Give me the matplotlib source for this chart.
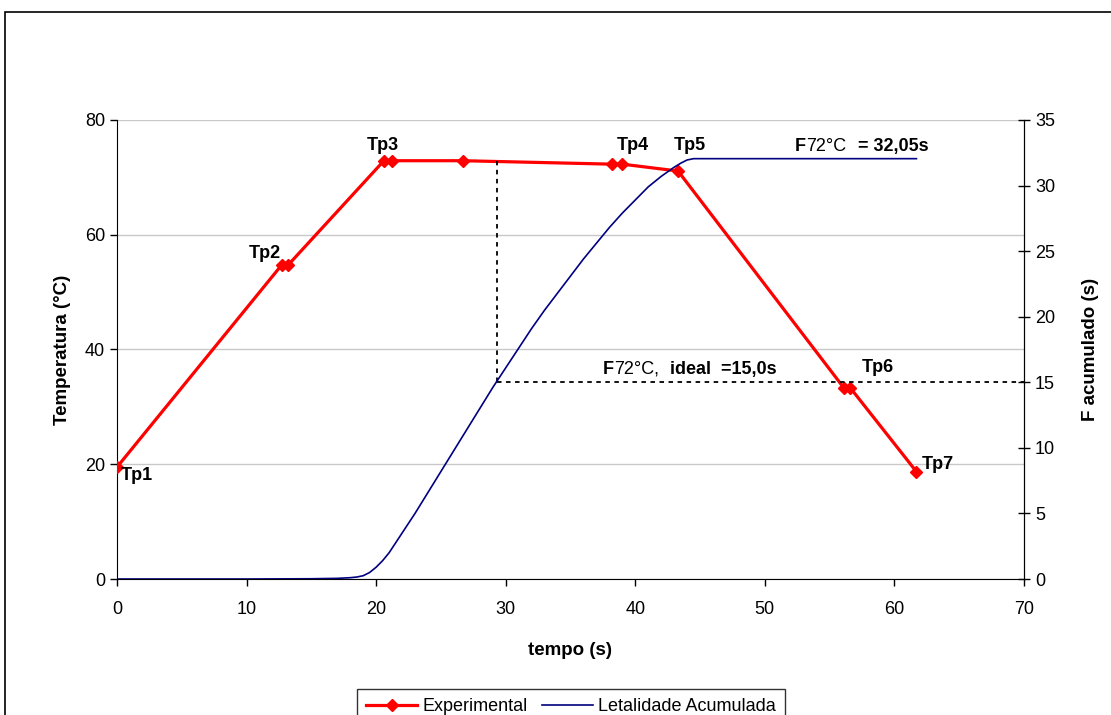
import matplotlib
matplotlib.use('Agg')
import matplotlib.pyplot as plt
from matplotlib.patches import Rectangle

plt.rcParams['font.family'] = ['Liberation Sans', 'DejaVu Sans']

# dados
tempo_exp = [0, 12.7, 13.2, 20.6, 21.2, 26.7, 38.2, 39.0, 43.3, 56.1, 56.6, 61.7]
temp_exp = [19.5, 54.7, 54.7, 72.9, 72.9, 72.9, 72.3, 72.3, 71.1, 33.3, 33.3, 18.7]

tempo_let = [0, 10, 15, 17, 18, 18.5, 19, 19.5, 20, 20.5, 21, 22, 23, 24, 25, 26, 27,
             28, 29, 30, 31, 32, 33, 34, 35, 36, 37, 38, 39, 40, 41, 42, 43, 43.5,
             44, 44.5, 61.7]
f_let = [0, 0, 0.02, 0.05, 0.1, 0.15, 0.25, 0.5, 0.9, 1.4, 2.0, 3.5, 5.0, 6.6, 8.2,
         9.8, 11.4, 13.0, 14.6, 16.1, 17.6, 19.1, 20.5, 21.8, 23.1, 24.4, 25.6, 26.8,
         27.9, 28.9, 29.9, 30.7, 31.4, 31.7, 31.95, 32.05, 32.05]

# rótulos dos pontos: (texto, x, y, alinhamento)
rotulos = [('Tp1', 0.3, 18.0, 'left'), ('Tp2', 11.4, 56.8, 'center'),
           ('Tp3', 20.5, 75.6, 'center'), ('Tp4', 39.8, 75.6, 'center'),
           ('Tp5', 44.2, 75.6, 'center'), ('Tp6', 58.7, 36.8, 'center'),
           ('Tp7', 62.1, 20.0, 'left')]

f_ideal = 15.0
t_ideal = 29.3

fig = plt.figure(figsize=(11.11, 7.15), dpi=100)
ax = fig.add_axes([0.1053, 0.1902, 0.8164, 0.642])
ax2 = ax.twinx()

l1, = ax.plot(tempo_exp, temp_exp, color='#ff0000', lw=2.3, marker='D', ms=6,
              label='Experimental', zorder=4)
l2, = ax2.plot(tempo_let, f_let, color='#000080', lw=1.2,
               label='Letalidade Acumulada', zorder=3)

# linhas tracejadas do F ideal
ax2.plot([t_ideal, t_ideal], [f_ideal, 72.8 * 35 / 80], color='black', lw=1.3,
         ls=(0, (2.5, 2.5)))
ax2.plot([t_ideal, 70], [f_ideal, f_ideal], color='black', lw=1.3, ls=(0, (2.5, 2.5)))

ax.set_xlim(0, 70)
ax.set_ylim(0, 80)
ax2.set_ylim(0, 35)
ax.set_xticks(range(0, 71, 10))
ax.set_yticks(range(0, 81, 20))
ax2.set_yticks(range(0, 36, 5))
ax.yaxis.grid(True, color='#c8c8c8', lw=1)
ax.set_axisbelow(True)

for a in (ax, ax2):
    a.spines['top'].set_visible(False)
ax.tick_params(labelsize=13, length=5, width=1, direction='out')
ax.tick_params(axis='x', pad=11)
ax2.tick_params(labelsize=13, length=8, width=1, direction='inout', pad=4)
ax2.spines['left'].set_visible(False)
ax2.spines['bottom'].set_visible(False)

ax.set_xlabel('tempo (s)', fontsize=13.5, fontweight='bold', labelpad=17)
ax.set_ylabel('Temperatura (°C)', fontsize=13.5, fontweight='bold', labelpad=10)
ax2.set_ylabel('F acumulado (s)', fontsize=13.5, fontweight='bold', labelpad=19)

for txt, x, y, ha in rotulos:
    ax.text(x, y, txt, fontsize=13, fontweight='bold', ha=ha, va='center', zorder=5)

# F72°C = 32,05s
ax.text(52.3, 75.4, 'F', fontsize=13, fontweight='bold', va='center')
ax.text(53.2, 75.4, '72°C', fontsize=13, va='center')
ax.text(57.2, 75.4, '= 32,05s', fontsize=13, fontweight='bold', va='center')

# F72°C, ideal = 15,0s
ax.text(37.5, 36.6, 'F', fontsize=13, fontweight='bold', va='center')
ax.text(38.4, 36.6, '72°C,', fontsize=13, va='center')
ax.text(42.7, 36.6, 'ideal  =15,0s', fontsize=13, fontweight='bold', va='center')

leg = fig.legend(handles=[l1, l2], loc='upper center', bbox_to_anchor=(0.514, 0.049),
                 ncol=2, fontsize=13, frameon=True, fancybox=False,
                 edgecolor='black', handlelength=2.8, handletextpad=0.3,
                 columnspacing=0.8, borderpad=0.5)
leg.get_frame().set_linewidth(1)

fig.patches.append(Rectangle((0.0045, -0.1), 1.2, 1.083, transform=fig.transFigure,
                             fill=False, edgecolor='black', lw=1.2))

fig.savefig('out.png', dpi=100)
